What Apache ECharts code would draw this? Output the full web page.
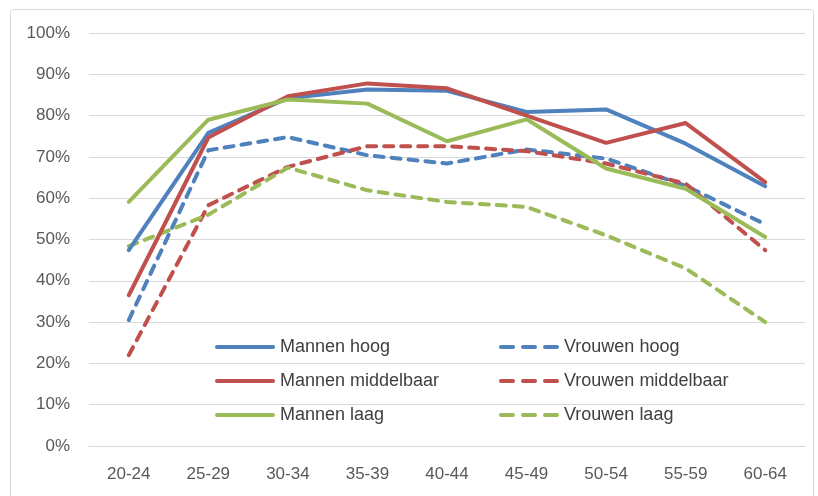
<!DOCTYPE html>
<html>
<head>
<meta charset="utf-8">
<script src="https://cdn.jsdelivr.net/npm/echarts@6/dist/echarts.min.js"></script>
<style>html,body{margin:0;padding:0;background:#fff}#c{width:818px;height:496px}</style>
</head>
<body>
<div id="c"></div>
<script>
const categories = ['20-24','25-29','30-34','35-39','40-44','45-49','50-54','55-59','60-64'];
const mannenHoog = [47.4, 75.8, 84.2, 86.3, 86.0, 80.9, 81.5, 73.2, 62.9];
const mannenMiddelbaar = [36.5, 74.7, 84.7, 87.8, 86.6, 80.0, 73.4, 78.2, 63.9];
const mannenLaag = [59.1, 79.0, 83.9, 82.9, 73.8, 79.1, 67.2, 62.3, 50.6];
const vrouwenHoog = [30.5, 71.6, 74.8, 70.4, 68.4, 71.8, 69.6, 63.0, 53.7];
const vrouwenMiddelbaar = [22.0, 58.3, 67.6, 72.6, 72.6, 71.4, 68.4, 63.5, 47.4];
const vrouwenLaag = [48.4, 56.0, 67.4, 61.9, 59.1, 57.9, 51.0, 43.0, 30.0];

const BLUE = '#4F81BD', RED = '#C0504D', GREEN = '#9BBB59';
const FONT = 'Liberation Sans, Arial, sans-serif';
const SOLID_ICON = 'path://M2,0H58A2,2 0 0 1 58,4H2A2,2 0 0 1 2,0Z';
const DASH_ICON = 'path://M2,0H14A2,2 0 0 1 14,4H2A2,2 0 0 1 2,0ZM24,0H36A2,2 0 0 1 36,4H24A2,2 0 0 1 24,0ZM46,0H58A2,2 0 0 1 58,4H46A2,2 0 0 1 46,0Z';

function mk(name, data, color, dashed) {
  return {
    name, type: 'line', data, symbol: 'none', smooth: false,
    lineStyle: { color, width: 4, type: dashed ? [9, 8] : 'solid', cap: 'round', join: 'round' },
    itemStyle: { color },
    emphasis: { disabled: true }, z: dashed ? 2 : 3
  };
}

const chart = echarts.init(document.getElementById('c'), null, { renderer: 'canvas' });
const legendCommon = {
  orient: 'vertical', itemWidth: 60, itemHeight: 4, itemGap: 16,
  textStyle: { color: '#404040', fontSize: 18, lineHeight: 18, fontFamily: FONT },
  selectedMode: false
};
function items(names, icon) { return names.map(n => ({ name: n, icon })); }
chart.setOption({
  animation: false,
  backgroundColor: '#fff',
  graphic: [{
    type: 'rect', shape: { x: 10.5, y: 9.5, width: 803, height: 500, r: 3 },
    style: { fill: 'none', stroke: '#d9d9d9', lineWidth: 1 }, silent: true, z: -10
  }],
  grid: { left: 89, right: 13, top: 33, bottom: 50, containLabel: false },
  legend: [
    Object.assign({}, legendCommon, { left: 210, top: 333, data: items(['Mannen hoog', 'Mannen middelbaar', 'Mannen laag'], SOLID_ICON) }),
    Object.assign({}, legendCommon, { left: 494, top: 333, data: items(['Vrouwen hoog', 'Vrouwen middelbaar', 'Vrouwen laag'], DASH_ICON) })
  ],
  xAxis: {
    type: 'category', data: categories, boundaryGap: true,
    axisLine: { show: true, lineStyle: { color: '#d9d9d9', width: 1 } },
    axisTick: { show: false },
    axisLabel: { color: '#595959', fontSize: 17, fontFamily: FONT, margin: 20 }
  },
  yAxis: {
    type: 'value', min: 0, max: 100, interval: 10,
    axisLine: { show: false }, axisTick: { show: false },
    axisLabel: { color: '#595959', fontSize: 17, fontFamily: FONT, formatter: '{value}%', margin: 19 },
    splitLine: { lineStyle: { color: '#d9d9d9', width: 1 } }
  },
  series: [
    mk('Mannen hoog', mannenHoog, BLUE, false),
    mk('Vrouwen hoog', vrouwenHoog, BLUE, true),
    mk('Mannen middelbaar', mannenMiddelbaar, RED, false),
    mk('Vrouwen middelbaar', vrouwenMiddelbaar, RED, true),
    mk('Mannen laag', mannenLaag, GREEN, false),
    mk('Vrouwen laag', vrouwenLaag, GREEN, true)
  ]
});
</script>
</body>
</html>
